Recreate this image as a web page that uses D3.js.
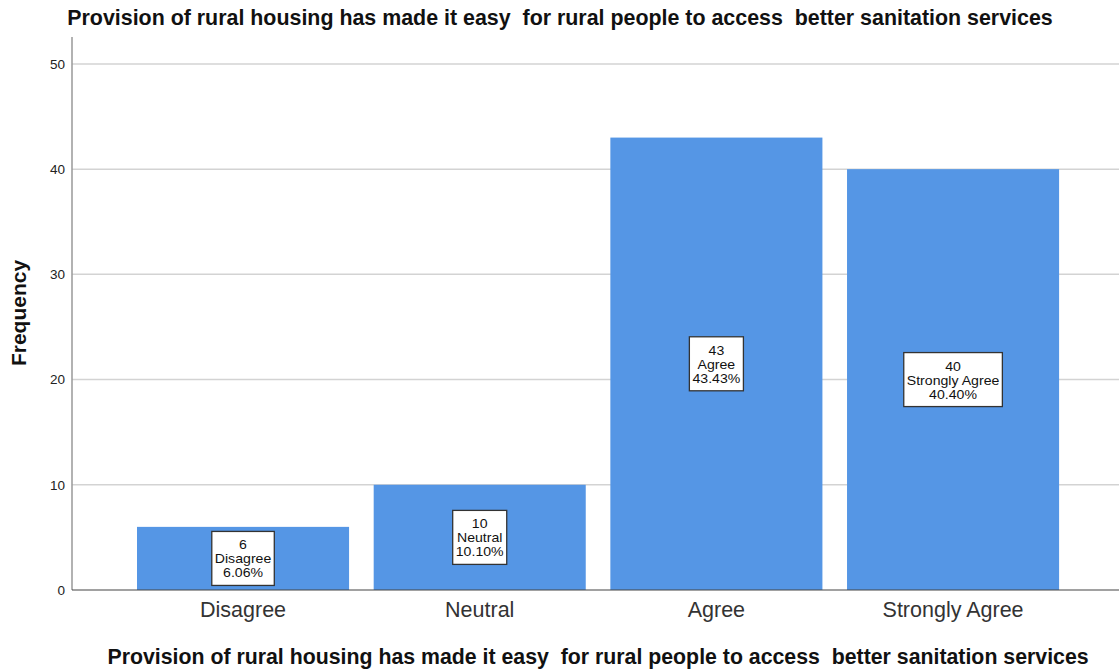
<!DOCTYPE html>
<html>
<head>
<meta charset="utf-8">
<script src="https://cdn.jsdelivr.net/npm/d3@7"></script>
<style>
	body{margin:0;background:#fff;}
	svg{display:block;font-family:"Liberation Sans",Arial,sans-serif;}
	text{white-space:pre;}
</style>
</head>
<body>
<div id="chart"></div>
<script>
//Data
const categories = ['Disagree','Neutral','Agree','Strongly Agree'];
const frequencies = [6,10,43,40];
const percentLabels = ['6.06%','10.10%','43.43%','40.40%'];
const yTicks = [0,10,20,30,40,50];
const titleText = 'Provision of rural housing has made it easy  for rural people to access  better sanitation services';

const width = 1119, height = 670;
const margin = {t:37,r:0,b:80,l:72};
const baseY = height - margin.b; //590

const svg = d3.select('#chart').append('svg')
	.attr('width',width)
	.attr('height',height);

//Scales
const scaleY = d3.scaleLinear().domain([0,52.56]).range([baseY,margin.t]);
const scaleX = d3.scaleBand()
	.domain(categories)
	.range([124.7,1071.4])
	.paddingInner(0.104)
	.paddingOuter(0.052);

//Gridlines
svg.append('g').attr('class','grid')
	.selectAll('line')
	.data(yTicks.filter(d => d > 0))
	.enter().append('line')
	.attr('x1',margin.l)
	.attr('x2',width)
	.attr('y1',d => scaleY(d))
	.attr('y2',d => scaleY(d))
	.style('stroke','#d3d3d3')
	.style('stroke-width',1.5);

//Bars
svg.append('g').attr('class','bars')
	.selectAll('rect')
	.data(frequencies)
	.enter().append('rect')
	.attr('x',(d,i) => scaleX(categories[i]))
	.attr('width',scaleX.bandwidth())
	.attr('y',d => scaleY(d))
	.attr('height',d => baseY - scaleY(d))
	.style('fill','#5596e5');

//Y axis
const axisY = d3.axisLeft(scaleY).tickValues(yTicks).tickSize(0).tickPadding(7);
const axisYNode = svg.append('g')
	.attr('transform',`translate(${margin.l},0)`)
	.call(axisY);
axisYNode.select('.domain').remove();
axisYNode.selectAll('text')
	.style('font-size','13.5px')
	.style('fill','#222');
svg.append('line')
	.attr('x1',margin.l).attr('x2',margin.l)
	.attr('y1',margin.t).attr('y2',baseY)
	.style('stroke','#999')
	.style('stroke-width',1.5);

//Baseline
svg.append('line')
	.attr('x1',margin.l).attr('x2',width)
	.attr('y1',baseY).attr('y2',baseY)
	.style('stroke','#444')
	.style('stroke-width',1.2);

//X axis labels
const axisX = d3.axisBottom(scaleX).tickSize(0).tickPadding(12);
const axisXNode = svg.append('g')
	.attr('transform',`translate(0,${baseY})`)
	.call(axisX);
axisXNode.select('.domain').remove();
axisXNode.selectAll('text')
	.style('font-size','21.5px')
	.style('fill','#333');

//Value labels (three lines in a white box at the bar's middle)
const labels = svg.append('g').attr('class','labels')
	.selectAll('g')
	.data(frequencies)
	.enter().append('g')
	.attr('transform',(d,i) => `translate(${scaleX(categories[i]) + scaleX.bandwidth()/2},${scaleY(d/2)})`);

labels.each(function(d,i){
	const g = d3.select(this);
	const lines = [String(d), categories[i], percentLabels[i]];
	const textG = g.append('g').attr('transform','scale(1.13,1)');
	const texts = textG.selectAll('text')
		.data(lines)
		.enter().append('text')
		.attr('text-anchor','middle')
		.attr('x',0)
		.attr('y',(l,j) => (j-1)*14 + 5)
		.style('font-size','12.5px')
		.style('fill','#111')
		.text(l => l);
	const bw = d3.max(texts.nodes(), n => n.getBBox().width) * 1.13;
	g.insert('rect','g')
		.attr('x',-bw/2 - 3)
		.attr('y',-27)
		.attr('width',bw + 6)
		.attr('height',54)
		.style('fill','#fff')
		.style('stroke','#333')
		.style('stroke-width',1.3);
});

//Titles
svg.append('text')
	.attr('x',560)
	.attr('y',25)
	.attr('text-anchor','middle')
	.style('font-size','21.4px')
	.style('font-weight','bold')
	.style('fill','#111')
	.text(titleText);

svg.append('text')
	.attr('x',598)
	.attr('y',664)
	.attr('text-anchor','middle')
	.style('font-size','21.3px')
	.style('font-weight','bold')
	.style('fill','#111')
	.text(titleText);

svg.append('text')
	.attr('transform','translate(26,313) rotate(-90)')
	.attr('text-anchor','middle')
	.style('font-size','21px')
	.style('font-weight','bold')
	.style('fill','#111')
	.text('Frequency');
</script>
</body>
</html>
